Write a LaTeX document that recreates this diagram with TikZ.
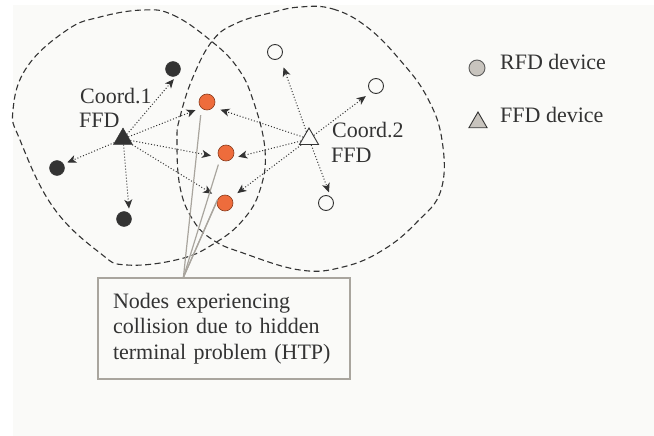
\documentclass[tikz,border=0pt]{standalone}
\usepackage{fontspec}
\setmainfont{Liberation Serif}
\usetikzlibrary{arrows.meta,shapes.geometric}
\definecolor{bg}{HTML}{FAFAF8}
\definecolor{ink}{HTML}{333333}
\definecolor{orng}{HTML}{EE6C3C}
\definecolor{orngdk}{HTML}{8A3C1E}
\definecolor{boxgray}{HTML}{A9A59E}
\definecolor{legfill}{HTML}{C8C4BE}
\begin{document}
\begin{tikzpicture}[x=1pt,y=-1pt,
  blob/.style={draw=ink, line width=1.1pt, dash pattern=on 6pt off 3.5pt},
  arr/.style={draw=ink, line width=1pt, dash pattern=on 1pt off 2pt, -{Stealth[length=9pt,width=8pt,inset=2.5pt]}},
  dotblack/.style={circle, fill=ink, draw=ink, minimum size=15pt, inner sep=0pt},
  dotorange/.style={circle, fill=orng, draw=orngdk, line width=0.6pt, minimum size=16pt, inner sep=0pt},
  dotopen/.style={circle, fill=bg, draw=ink, line width=0.9pt, minimum size=15pt, inner sep=0pt},
  tri/.style={regular polygon, regular polygon sides=3, minimum size=22pt, inner sep=0pt},
  lbl/.style={font=\fontsize{22}{25.5}\selectfont, inner sep=0pt, anchor=base west, text=ink},
  ptr/.style={draw=boxgray, line width=1.2pt}
]
\useasboundingbox (0,0) rectangle (654,436);
\fill[white] (0,0) rectangle (654,436);
\fill[bg] (13,5) rectangle (654,436);

% coverage areas
\draw[blob] plot[smooth cycle, tension=0.7] coordinates {
  (143,10) (173,15) (210,40) (237,67) (253,100) (265,150) (260,190)
  (243,220) (215,243) (180,259) (127,265) (100,253) (53,207) (20,140)
  (13,110) (27,67) (67,30) (100,17)};
\draw[blob] plot[smooth cycle, tension=0.7] coordinates {
  (300,7) (333,9) (367,27) (400,60) (427,97) (442,140) (441,190)
  (417,222) (383,250) (343,267) (300,270) (243,253) (213,240)
  (193,220) (180,187) (177,140) (180,117) (193,77) (213,40) (237,23) (270,13)};

% devices
\node[dotblack] (b1) at (173,69) {};
\node[dotblack] (b2) at (57,168) {};
\node[dotblack] (b3) at (124,219) {};
\node[dotorange] (o1) at (207,102) {};
\node[dotorange] (o2) at (226,153) {};
\node[dotorange] (o3) at (225,203) {};
\node[dotopen] (w1) at (275,52) {};
\node[dotopen] (w2) at (376,86) {};
\node[dotopen] (w3) at (326,203) {};
\node[tri, fill=ink, draw=ink] (c1) at (123,139) {};
\node[tri, fill=bg, draw=ink, line width=0.9pt] (c2) at (309,139) {};

% labels
\node[lbl] (t1) at (80,103) {Coord.1};
\node[lbl] (t1b) at (79,128) {FFD};
\node[lbl] (t2) at (332,137) {Coord.2};
\node[lbl] (t2b) at (331,162) {FFD};

% coordinator 1 links
\draw[arr, shorten >=4.5pt] (c1) -- (b1.-61);
\draw[arr, shorten >=4pt] (c1) -- (b2.31);
\draw[arr, shorten >=5pt] (c1) -- (b3.45);
\draw[arr, shorten >=6pt] (c1) -- (o1.225);
\draw[arr, shorten >=8pt] (c1) -- (o2.210);
\draw[arr, shorten >=7.5pt] (c1) -- (o3.140);

% coordinator 2 links
\draw[arr, shorten >=10pt] (c2) -- (w1.-49);
\draw[arr, shorten >=6.5pt] (c2) -- (w2.231);
\draw[arr, shorten >=4.5pt] (c2) -- (w3.55);
\draw[arr, shorten >=7.5pt] (c2) -- (o1.-40);
\draw[arr, shorten >=6pt] (c2) -- (o2.-39);
\draw[arr, shorten >=7.5pt] (c2) -- (o3.40);

% legend
\node[circle, fill=legfill, draw=ink!80, line width=0.9pt, minimum size=16pt, inner sep=0pt] (lg1) at (477,68) {};
\node[lbl] (lt1) at (500,70) {RFD device};
\node[tri, minimum size=21pt, fill=legfill, draw=ink, line width=0.9pt] (lg2) at (478,122.5) {};
\node[lbl] (lt2) at (500,122) {FFD device};

% annotation box
\node[draw=boxgray, line width=1.2pt, minimum width=252pt, minimum height=101pt,
      inner sep=0pt, text width=222pt, align=left, font=\fontsize{22}{25.5}\selectfont, text=ink]
  (box) at (224,328.5) {Nodes experiencing\\collision due to hidden\\terminal problem (HTP)};
\coordinate (hub) at ([xshift=86pt]box.north west);
\draw[ptr, shorten >=7pt] (hub) -- (o1.228);
\draw[ptr, shorten >=6pt] (hub) -- (o2.225);
\draw[ptr, shorten >=6pt] (hub) -- (o3.141);
\draw[ptr, shorten >=1pt] (hub) -- (o3.150);
\end{tikzpicture}
\end{document}
